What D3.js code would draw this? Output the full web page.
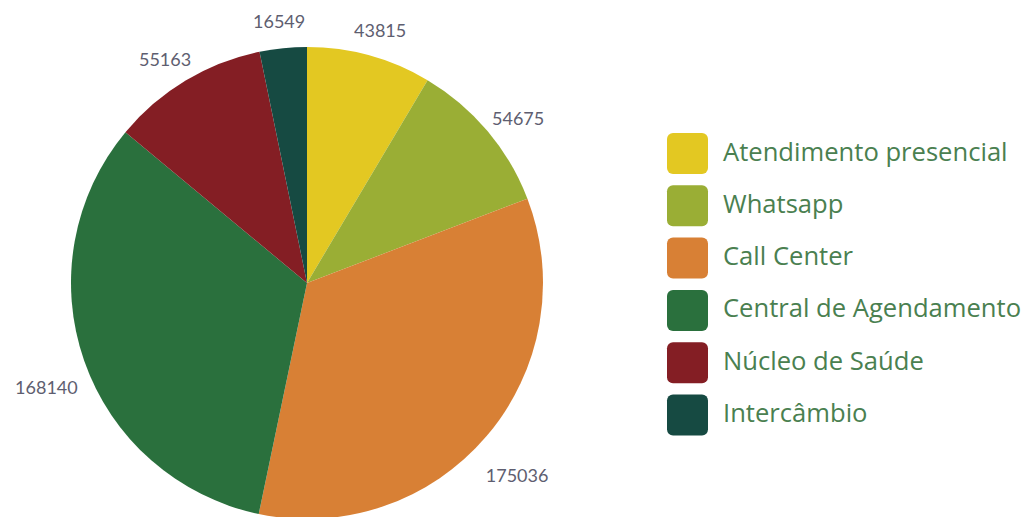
<!DOCTYPE html>
<html>
<head>
<meta charset="utf-8">
<script src="https://cdn.jsdelivr.net/npm/d3@7"></script>
<style>
  html, body { margin: 0; padding: 0; background: #ffffff; }
  svg { display: block; }
</style>
</head>
<body>
<svg id="chart" width="1024" height="517"></svg>
<script>
// Atendimentos por canal
const categories = [
  "Atendimento presencial",
  "Whatsapp",
  "Call Center",
  "Central de Agendamento",
  "Núcleo de Saúde",
  "Intercâmbio"
];
const values = [43815, 54675, 175036, 168140, 55163, 16549];
const colors = ["#e3c822", "#9aae35", "#d88035", "#2a703d", "#841e24", "#164a42"];

const svg = d3.select("#chart");
const cx = 307, cy = 283, radius = 236;

const color = d3.scaleOrdinal().domain(categories).range(colors);

const data = categories.map((c, i) => ({ name: c, value: values[i] }));
const pie = d3.pie().value(d => d.value).sort(null);
const arcs = pie(data);

const arc = d3.arc().innerRadius(0).outerRadius(radius);
const labelArc = d3.arc().innerRadius(276).outerRadius(276);

const g = svg.append("g").attr("transform", `translate(${cx},${cy})`);

g.selectAll("path.slice")
  .data(arcs)
  .join("path")
  .attr("class", "slice")
  .attr("d", arc)
  .attr("fill", d => color(d.data.name));

// value labels, laid out on a ring slightly below the pie centre
g.selectAll("text.value")
  .data(arcs)
  .join("text")
  .attr("class", "value")
  .attr("transform", d => {
    const [x, y] = labelArc.centroid(d);
    return `translate(${x},${y + 13})`;
  })
  .attr("text-anchor", "middle")
  .attr("dominant-baseline", "central")
  .attr("font-family", "Lato, 'Open Sans', sans-serif")
  .attr("font-size", 18)
  .attr("fill", "#5e5e70")
  .text(d => d.data.value);

// legend
const legend = svg.append("g").attr("transform", "translate(667,133)");
const row = d3.scaleBand().domain(categories).range([0, 6 * 52.3]);

const item = legend.selectAll("g.item")
  .data(categories)
  .join("g")
  .attr("class", "item")
  .attr("transform", d => `translate(0,${row(d)})`);

item.append("rect")
  .attr("width", 41)
  .attr("height", 41)
  .attr("rx", 6)
  .attr("ry", 6)
  .attr("fill", d => color(d));

item.append("text")
  .attr("x", 56)
  .attr("y", 18)
  .attr("dominant-baseline", "central")
  .attr("font-family", "'Open Sans', sans-serif")
  .attr("font-size", 25.6)
  .attr("fill", "#4a8050")
  .text(d => d);
</script>
</body>
</html>
